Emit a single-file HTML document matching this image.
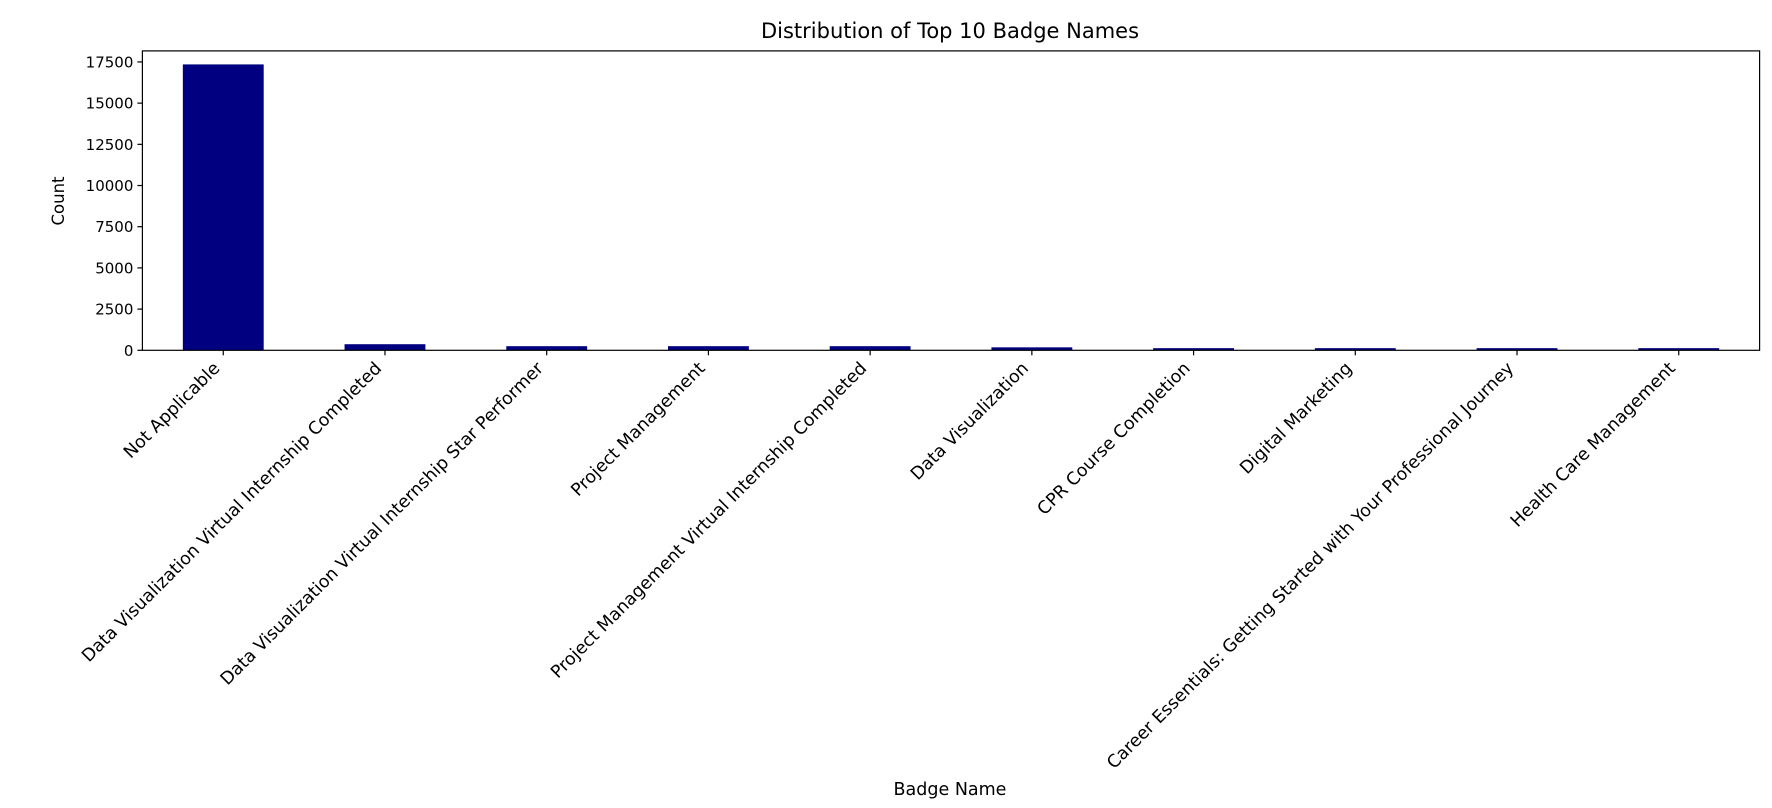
<!DOCTYPE html>
<html><head><meta charset="utf-8"><style>
html,body{margin:0;padding:0;background:#fff;}
svg{display:block;font-family:"DejaVu Sans","Liberation Sans",sans-serif;}
</style></head><body>
<svg id="chart" width="1772" height="808" viewBox="0 0 1772 808">
<text x="950" y="38" font-size="21" text-anchor="middle">Distribution of Top 10 Badge Names</text>
<text transform="translate(64,201) rotate(-90)" font-size="16.5" text-anchor="middle">Count</text>
<text x="950" y="795" font-size="17.5" text-anchor="middle">Badge Name</text>
<g id="bars"></g><g id="yticks"></g><g id="xticks"></g>
<rect x="142.4" y="50.9" width="1617.2" height="299.4" fill="none" stroke="#000" stroke-width="1.2"/>
</svg>
<script>
const categories = ["Not Applicable","Data Visualization Virtual Internship Completed","Data Visualization Virtual Internship Star Performer","Project Management","Project Management Virtual Internship Completed","Data Visualization","CPR Course Completion","Digital Marketing","Career Essentials: Getting Started with Your Professional Journey","Health Care Management"];
const counts = [17350, 370, 250, 250, 250, 180, 130, 130, 130, 130];
const yTicks = [0,2500,5000,7500,10000,12500,15000,17500];
const ns="http://www.w3.org/2000/svg";
const L=142.4,R=1759.6,T=50.9,B=350.3,YMAX=18170;
const step=(R-L)/categories.length;
const xC=i=>L+step*(i+0.5);
const yS=v=>B-(v/YMAX)*(B-T);
const bars=document.getElementById('bars'),yt=document.getElementById('yticks'),xt=document.getElementById('xticks');
function mk(t,a){const e=document.createElementNS(ns,t);for(const k in a)e.setAttribute(k,a[k]);return e;}
counts.forEach((v,i)=>{
  const r=mk('rect',{x:xC(i)-step/4,y:yS(v),width:step/2,height:B-yS(v),fill:'#000080'});
  
  
  bars.appendChild(r);
});
yTicks.forEach(v=>{
  const y=yS(v);
  const l=mk('line',{x1:L-5,x2:L,y1:y,y2:y,stroke:'#000','stroke-width':1.2});
  
  
  yt.appendChild(l);
  const t=mk('text',{x:L-9,y:y+5.5,'font-size':15,'text-anchor':'end'});
  t.textContent=v;
  
  
  yt.appendChild(t);
});
categories.forEach((c,i)=>{
  const x=xC(i);
  const l=mk('line',{x1:x,x2:x,y1:B,y2:B+5,stroke:'#000','stroke-width':1.2});
  
  
  xt.appendChild(l);
  const px=x-2.5,py=B+19;
  const t=mk('text',{transform:`translate(${px},${py}) rotate(-45)`,'font-size':17.5,'text-anchor':'end'});
  t.textContent=c;
  
  
  xt.appendChild(t);
});
</script>
</body></html>
